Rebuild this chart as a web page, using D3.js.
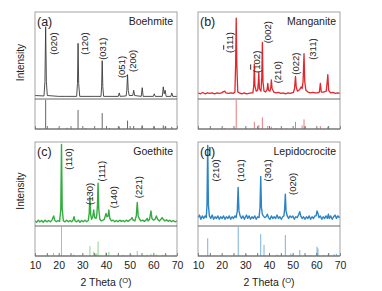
<!DOCTYPE html>
<html>
<head>
<meta charset="utf-8">
<script src="https://cdn.jsdelivr.net/npm/d3@7"></script>
<style>
  body { margin: 0; background: #fff; }
  svg { display: block; font-family: "Liberation Sans", Arial, "DejaVu Sans", sans-serif; }
</style>
</head>
<body>
<svg id="chart" width="382" height="291"></svg>
<script>
// measured patterns, [2theta, intensity %]
const boehmite = [[10,4],[13.8,3.5],[14.2,20],[14.5,83],[14.8,20],[15.2,4],[20,3],[23,3],[27.6,3],[27.95,18],[28.2,64],[28.45,18],[28.9,3],[35,3],[37.9,3],[38.15,14],[38.4,44],[38.65,14],[39,3],[45.2,3],[45.6,7],[46,3],[48.5,3.5],[48.8,10],[49.1,28],[49.4,10],[49.8,4],[51.3,4],[51.7,10],[52.1,4],[54.9,3],[55.3,13],[55.7,3],[60,3],[60.4,6],[60.8,3],[63.8,3],[64.2,14],[64.6,6],[65,10],[65.4,3],[67.4,3],[67.8,7],[68.2,3],[70,3]];
const manganite = [[10,7],[11,6],[12,7.5],[13,6],[14,7],[15,6.5],[16,7],[17,6],[18,7],[19,6.5],[20,7],[20.8,8.5],[21.3,9],[21.8,7],[23,6.5],[24,7],[25,6.5],[25.6,8],[25.9,40],[26.15,93],[26.4,40],[26.8,8],[27.5,7],[28.5,6],[29.5,7],[30.5,6],[31.5,6.5],[32.5,7],[33.2,7],[33.55,15],[33.8,40],[34.05,15],[34.6,9],[35.2,10],[35.5,20],[35.7,31],[35.95,12],[36.6,9],[36.95,25],[37.2,65],[37.45,20],[37.9,9],[38.6,8],[39.2,11],[39.5,18],[39.8,10],[40.4,9],[40.8,14],[41,22],[41.3,12],[42,8],[43,7],[44,7.5],[45,6.5],[46,7],[47,6],[48,7],[49,6.5],[50.3,7.5],[50.8,12],[51.2,26],[51.5,14],[52,9],[53,11],[53.6,14],[54,12],[54.4,20],[54.8,52],[55.1,20],[55.6,10],[56.5,8],[57.5,7],[58.5,7.5],[59.5,7],[60.5,7],[61.3,8],[61.7,18],[62.1,8],[63,8],[64.2,9],[64.6,20],[64.85,28],[65.2,10],[66,7],[67,7.5],[68,6.5],[69,7],[70,6.5]];
const goethite = [[10,6],[10.7,4.5],[11.4,7],[12,5],[12.8,6.5],[13.5,4.5],[14.2,7],[15,5],[15.8,6.5],[16.5,5],[17.2,7],[17.6,10],[17.9,12],[18.3,7],[19,5],[19.7,6.5],[20.4,5.5],[20.9,20],[21.2,97],[21.5,20],[22,6],[22.7,5],[23.4,7],[24.1,5],[24.8,6.5],[25.5,5],[26.2,8],[26.5,11],[26.9,6],[27.6,5],[28.3,7],[29,4.5],[29.7,6.5],[30.4,5],[31.1,7],[31.8,5],[32.5,6.5],[32.9,15],[33.2,35],[33.5,14],[33.9,8],[34.4,11],[34.8,19],[35.2,10],[35.8,9],[36.1,13],[36.4,25],[36.65,51],[36.95,20],[37.4,8],[38,6],[38.7,7],[39.3,8],[39.7,12],[40,15],[40.4,11],[40.9,12],[41.2,19],[41.6,9],[42.3,6],[43,7],[43.7,5],[44.4,6.5],[45.1,5],[45.8,7],[46.5,5.5],[47.2,6.5],[47.9,5],[48.6,7],[49.3,5.5],[50,7],[50.5,8],[51,10],[51.5,7],[52.2,6],[52.8,12],[53.2,28],[53.6,12],[54.2,8],[54.8,6],[55.5,7],[56.2,5.5],[56.9,7],[57.4,9],[57.8,6],[58.4,8],[59,18],[59.4,9],[60,7],[60.7,8],[61.3,12],[61.8,8],[62.5,6],[63.2,8],[63.7,10],[64.2,8],[64.9,6],[65.6,7.5],[66.3,5.5],[67,7],[67.7,5],[68.4,6.5],[69.1,5],[70,6]];
const lepidocrocite = [[10,10],[10.6,13],[11.2,8],[11.8,12],[12.4,9],[13,12],[13.5,10],[13.8,25],[14.1,96],[14.4,25],[14.8,12],[15.4,9],[16,13],[16.6,8],[17.2,11],[17.8,9],[18.4,12],[19,8],[19.6,11],[20.2,9],[20.8,12],[21.4,8],[22,11],[22.6,9],[23.2,12],[23.8,8],[24.4,11],[25,9],[25.6,12],[26.1,10],[26.6,18],[26.95,46],[27.3,18],[27.8,12],[28.4,9],[29,12],[29.6,8],[30.1,11],[30.5,13],[31,9],[31.6,12],[32.2,8],[32.8,11],[33.4,9],[34,12],[34.6,8],[35.2,11],[35.8,10],[36.2,22],[36.5,59],[36.8,22],[37.2,14],[37.6,12],[38.2,10],[38.8,11],[39.3,14],[39.8,10],[40.4,8],[41,12],[41.6,9],[42.2,11],[42.8,9],[43.4,13],[44,9],[44.6,11],[45.2,8],[45.8,11],[46.3,12],[46.6,20],[46.9,38],[47.2,18],[47.7,12],[48.3,9],[48.9,12],[49.5,10],[50.1,12],[50.7,8],[51.3,11],[51.9,10],[52.6,14],[53,17],[53.4,12],[54,9],[54.6,11],[55.2,8],[55.8,11],[56.4,9],[57,12],[57.6,8],[58.2,11],[58.8,9],[59.4,12],[59.9,12],[60.3,18],[60.7,15],[61.1,10],[61.7,12],[62.3,8],[62.9,11],[63.5,9],[64.1,12],[64.7,9],[65.1,14],[65.5,9],[66.1,12],[66.7,8],[67.3,11],[67.9,13],[68.5,9],[69.1,12],[69.7,10],[70,11]];

// reference cards (stick patterns), [2theta, relative %]
const boehmiteRef = [[14.5,97],[23.5,4],[28.2,63],[31.5,3],[38.4,53],[41.5,3],[45.6,8],[49.1,28],[51.7,10],[55.3,12],[60.4,8],[64.2,12],[65,8],[67.8,7]];
const manganiteRef = [[21.3,3],[26.15,97],[33.8,24],[35.7,13],[37.2,39],[39.5,10],[41,8],[43,3],[47.5,2],[51.2,24],[54,12],[54.8,32],[55.3,8],[61.7,10],[64.85,8]];
const goethiteRef = [[17.8,10],[21.2,97],[26.4,5],[29,2],[33.2,33],[34.8,14],[35.5,6],[36.1,8],[36.65,48],[39.9,12],[41.2,14],[45,2],[47.3,4],[50.6,5],[53.2,17],[57.4,4],[59,7],[61.3,5],[63.9,4],[64.8,3],[68.8,2]];
const lepidocrociteRef = [[14.1,59],[27,97],[30.3,5],[36.5,73],[37.9,37],[43.4,5],[46.9,70],[49.2,8],[50,4],[53,20],[55.5,3],[57.4,3],[60.3,31],[60.7,25],[63,3],[65,5],[67.5,6],[68.5,7]];

// peak labels: [text, 2theta, intensity at text bottom]; \u0304 = bar over the preceding digit
const boehmiteLabels = [["(020)",17.7,51],["(120)",31.1,51],["(031)",38.6,45],["(051)",46.6,24],["(200)",51.0,31]];
const manganiteLabels = [["(1\u030411)",23.2,53],["(1\u030402)",34.6,30],["(002)",39.3,64],["(210)",43.4,18],["(022)",51.1,28],["(311)",58.2,45]];
const goethiteLabels = [["(110)",24.1,67],["(130)",32.9,25],["(111)",37.9,53],["(140)",43.1,21],["(221)",53.6,33]];
const lepidocrociteLabels = [["(210)",17.3,53],["(101)",27.9,53],["(301)",39.5,53],["(020)",50.1,37]];

const xTicks = [10, 15, 20, 25, 30, 35, 40, 45, 50, 55, 60, 65, 70];

const panels = [
  { tag: "(a)", name: "Boehmite", data: boehmite, ref: boehmiteRef, labels: boehmiteLabels, col: 0, row: 0, line: "#3a3a3a", stick: "#555", lw: 0.9 },
  { tag: "(b)", name: "Manganite", data: manganite, ref: manganiteRef, labels: manganiteLabels, col: 1, row: 0, line: "#e3262c", stick: "#ea6a6e", lw: 1.3 },
  { tag: "(c)", name: "Goethite", data: goethite, ref: goethiteRef, labels: goethiteLabels, col: 0, row: 1, line: "#33ad3f", stick: "#7fcf86", lw: 1.4 },
  { tag: "(d)", name: "Lepidocrocite", data: lepidocrocite, ref: lepidocrociteRef, labels: lepidocrociteLabels, col: 1, row: 1, line: "#2a84c6", stick: "#6aa9d8", lw: 1.4 }
];

const colX = [[35, 177], [198, 340]];
const rowY = [{ top: 12, div: 99, bottom: 129 }, { top: 142, div: 226, bottom: 256 }];

const svg = d3.select("#chart");

panels.forEach(p => {
  const [x0, x1] = colX[p.col];
  const r = rowY[p.row];
  const g = svg.append("g");

  const x = d3.scaleLinear().domain([10, 70]).range([x0, x1]);
  const y = d3.scaleLinear().domain([0, 100]).range([r.div, r.top]);
  const ys = d3.scaleLinear().domain([0, 100]).range([r.bottom, r.div]);

  const clipId = "clip" + p.col + p.row;
  g.append("clipPath").attr("id", clipId)
    .append("rect").attr("x", x0).attr("y", r.top).attr("width", x1 - x0).attr("height", r.div - r.top);

  // measured pattern
  g.append("path")
    .datum(p.data)
    .attr("clip-path", `url(#${clipId})`)
    .attr("fill", "none")
    .attr("stroke", p.line)
    .attr("stroke-width", p.lw)
    .attr("stroke-linejoin", "round")
    .attr("d", d3.line().x(d => x(d[0])).y(d => y(d[1])));

  // reference sticks
  g.selectAll(".stick")
    .data(p.ref)
    .enter()
    .append("line")
    .attr("x1", d => x(d[0]))
    .attr("x2", d => x(d[0]))
    .attr("y1", ys(0))
    .attr("y2", d => ys(d[1]))
    .attr("stroke", p.stick)
    .attr("stroke-width", 0.9);

  // bottom axis with inward ticks
  const axis = d3.axisBottom(x).tickValues(xTicks).tickSize(-3).tickPadding(6)
    .tickFormat(d => (p.row === 1 && d % 10 === 0) ? d : "");
  const ax = g.append("g")
    .attr("transform", `translate(0,${r.bottom})`)
    .call(axis);
  ax.select(".domain").remove();
  ax.selectAll(".tick line").attr("stroke", "#555").attr("stroke-width", 0.8);
  ax.selectAll(".tick text")
    .attr("fill", "#222")
    .style("font-size", "10.5px")
    .style("font-family", "\"Liberation Sans\", Arial, sans-serif");

  // frame and divider
  g.append("rect")
    .attr("x", x0).attr("y", r.top)
    .attr("width", x1 - x0).attr("height", r.bottom - r.top)
    .attr("fill", "none").attr("stroke", "#9a9a9a").attr("stroke-width", 0.9);
  g.append("line")
    .attr("x1", x0).attr("x2", x1).attr("y1", r.div).attr("y2", r.div)
    .attr("stroke", "#555").attr("stroke-width", 0.9);
  g.append("line")
    .attr("x1", x0).attr("x2", x1).attr("y1", r.bottom).attr("y2", r.bottom)
    .attr("stroke", "#555").attr("stroke-width", 0.9);

  // panel tag and phase name
  g.append("text")
    .attr("x", x0 + 2).attr("y", r.top + 14)
    .style("font-size", "12.5px").attr("fill", "#222")
    .text(p.tag);
  g.append("text")
    .attr("x", x1 - 4).attr("y", r.top + 13)
    .attr("text-anchor", "end")
    .style("font-size", "10.5px").attr("fill", "#222")
    .text(p.name);

  // peak labels, rotated; a digit followed by \u0304 gets an overline
  g.selectAll(".plabel")
    .data(p.labels)
    .enter()
    .append("text")
    .attr("transform", d => `translate(${x(d[1])},${y(d[2])}) rotate(-90)`)
    .attr("dominant-baseline", "central")
    .style("font-size", "9.5px")
    .attr("fill", "#222")
    .each(function(d) {
      const t = d3.select(this);
      const k = d[0].indexOf("\u0304");
      if (k < 0) { t.text(d[0]); return; }
      t.append("tspan").text(d[0].slice(0, k - 1));
      t.append("tspan").style("text-decoration", "overline").text(d[0].charAt(k - 1));
      t.append("tspan").text(d[0].slice(k + 1));
    });

  // y label on left column
  if (p.col === 0) {
    svg.append("text")
      .attr("transform", `translate(20,${(r.top + r.div) / 2 + 7}) rotate(-90)`)
      .attr("text-anchor", "middle")
      .attr("dominant-baseline", "central")
      .style("font-size", "10px").attr("fill", "#222")
      .text("Intensity");
  }

  // x title on bottom row
  if (p.row === 1) {
    const t = svg.append("text")
      .attr("x", (x0 + x1) / 2).attr("y", 286)
      .attr("text-anchor", "middle")
      .style("font-size", "10.5px").attr("fill", "#222");
    t.append("tspan").text("2 Theta (");
    t.append("tspan").attr("dy", -3).style("font-size", "7.5px").text("O");
    t.append("tspan").attr("dy", 3).text(")");
  }
});
</script>
</body>
</html>
